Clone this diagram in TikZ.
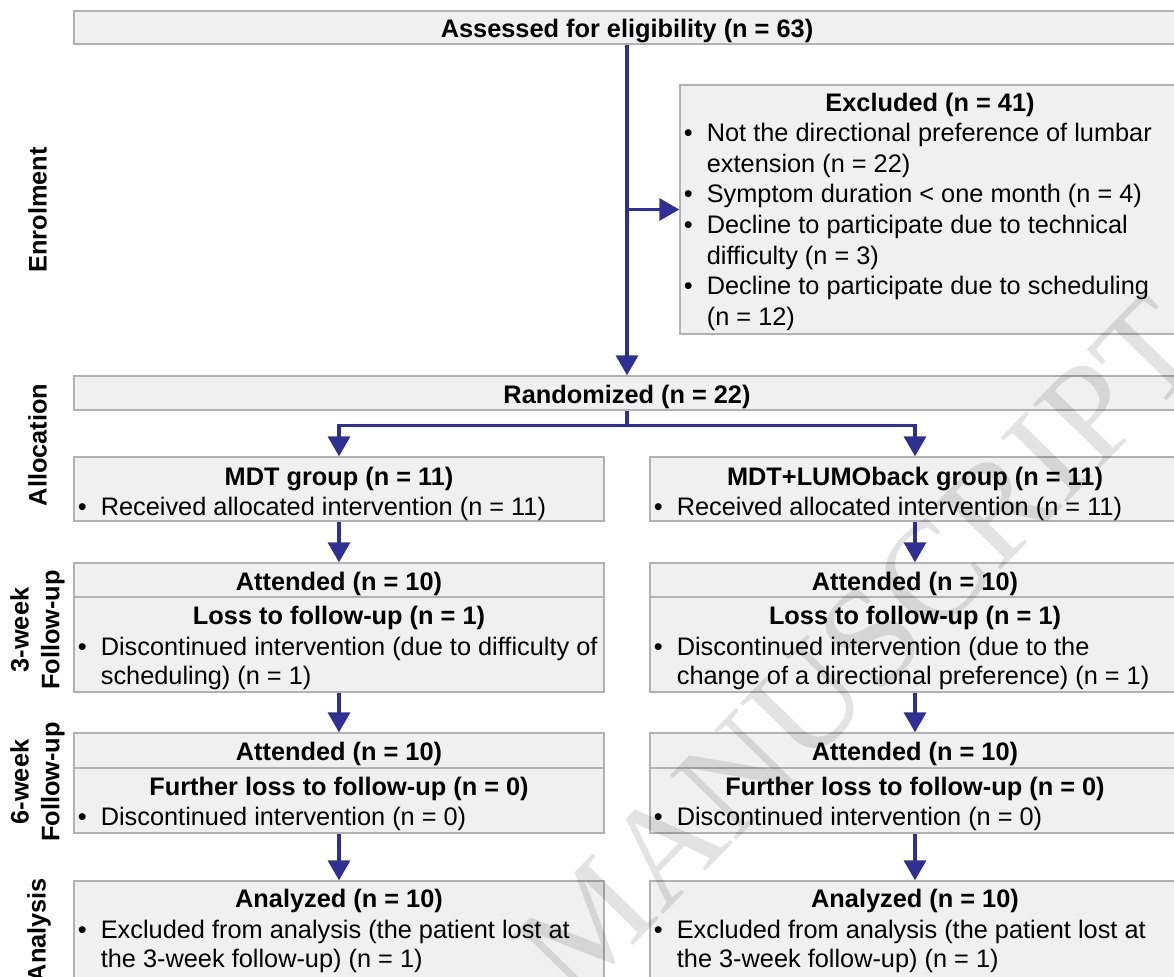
\documentclass[tikz,border=0pt]{standalone}
\usepackage{fontspec}
\setmainfont{Liberation Sans}
\newfontfamily\wmfont{Liberation Serif}
\usetikzlibrary{arrows.meta,fit}

\definecolor{flowblue}{RGB}{46,49,146}
\definecolor{boxfill}{RGB}{240,240,240}
\definecolor{boxline}{RGB}{178,178,178}

\tikzset{
  box/.style={draw=boxline, fill=boxfill, line width=1pt, inner sep=0pt, rectangle},
  txt/.style={font=\fontsize{19}{23}\selectfont, inner sep=0pt, anchor=base},
  ttl/.style={txt, font=\fontsize{19}{23}\selectfont\bfseries},
  bul/.style={txt, anchor=base west},
  phase/.style={font=\fontsize{19}{23}\selectfont\bfseries, rotate=90, align=center, inner sep=0pt},
  flow/.style={draw=flowblue, line width=2.6pt},
  arr/.style={flow, -{Triangle[length=15pt,width=16.5pt]}},
}
\newcommand{\bl}[1]{\makebox[17.3pt][l]{\textbullet}#1}

\begin{document}
\begin{tikzpicture}[x=0.75pt,y=0.75pt,yscale=-1,xscale=1]
	\useasboundingbox (0,0) rectangle (1174,976);
	\clip (0,0) rectangle (1174,976);

	%Shape: Rectangle
	\node [box, fit={(74,11) (1180,44)}] (assess) {};
	%Shape: Rectangle
	\node [box, fit={(680,85) (1180,334)}] (excl) {};
	%Shape: Rectangle
	\node [box, fit={(74,376) (1180,410)}] (rand) {};
	%Shape: Rectangle
	\node [box, fit={(74,457) (604,521)}] (mdtA) {};
	\node [box, fit={(650,457) (1180,521)}] (lumA) {};
	%Shape: Rectangle
	\node [box, fit={(74,563) (604,597)}] (mdtW3a) {};
	\node [box, fit={(74,597) (604,692)}] (mdtW3b) {};
	\node [box, fit={(650,563) (1180,597)}] (lumW3a) {};
	\node [box, fit={(650,597) (1180,692)}] (lumW3b) {};
	%Shape: Rectangle
	\node [box, fit={(74,733) (604,768)}] (mdtW6a) {};
	\node [box, fit={(74,768) (604,833)}] (mdtW6b) {};
	\node [box, fit={(650,733) (1180,768)}] (lumW6a) {};
	\node [box, fit={(650,768) (1180,833)}] (lumW6b) {};
	%Shape: Rectangle
	\node [box, fit={(74,881) (604,992)}] (mdtAn) {};
	\node [box, fit={(650,881) (1180,992)}] (lumAn) {};

	%Straight Lines
	\draw [arr] (assess.south) -- (rand.north);
	\draw [arr] (assess.south |- excl.west) -- (excl.west);
	\draw [flow] (rand.south) -- ++(0,15) coordinate (split);
	\draw [arr] (split) -| (mdtA.north);
	\draw [arr] (split) -| (lumA.north);
	\draw [arr] (mdtA.south) -- (mdtW3a.north);
	\draw [arr] (lumA.south) -- (lumW3a.north);
	\draw [arr] (mdtW3b.south) -- (mdtW6a.north);
	\draw [arr] (lumW3b.south) -- (lumW6a.north);
	\draw [arr] (mdtW6b.south) -- (mdtAn.north);
	\draw [arr] (lumW6b.south) -- (lumAn.north);

	% Text Node
	\node [ttl] (assessT) at (627,37) {Assessed for eligibility (n = 63)};
	% Text Node
	\node [ttl] (exclT) at (930,111) {Excluded (n = 41)};
	\node [bul] (excl1) at (683.5,141.5) {\bl{Not the directional preference of lumbar}};
	\node [bul] (excl2) at (706.6,172.2) {extension (n = 22)};
	\node [bul] (excl3) at (683.5,202.8) {\bl{Symptom duration < one month (n = 4)}};
	\node [bul] (excl4) at (683.5,233.5) {\bl{Decline to participate due to technical}};
	\node [bul] (excl5) at (706.6,264.1) {difficulty (n = 3)};
	\node [bul] (excl6) at (683.5,294.8) {\bl{Decline to participate due to scheduling}};
	\node [bul] (excl7) at (706.6,325.4) {(n = 12)};
	% Text Node
	\node [ttl] (randT) at (627,403) {Randomized (n = 22)};
	% Text Node
	\node [ttl] (mdtAT) at (339,485) {MDT group (n = 11)};
	\node [bul] (mdtA1) at (77.5,515) {\bl{Received allocated intervention (n = 11)}};
	\node [ttl] (lumAT) at (915,485) {MDT+LUMOback group (n = 11)};
	\node [bul] (lumA1) at (653.5,515) {\bl{Received allocated intervention (n = 11)}};
	% Text Node
	\node [ttl] (mdtW3T) at (339,590.5) {Attended (n = 10)};
	\node [ttl] (mdtW3L) at (339,624.5) {Loss to follow-up (n = 1)};
	\node [bul] (mdtW31) at (77.5,655) {\bl{Discontinued intervention (due to difficulty of}};
	\node [bul] (mdtW32) at (100.6,684) {scheduling) (n = 1)};
	\node [ttl] (lumW3T) at (915,590.5) {Attended (n = 10)};
	\node [ttl] (lumW3L) at (915,624.5) {Loss to follow-up (n = 1)};
	\node [bul] (lumW31) at (653.5,655) {\bl{Discontinued intervention (due to the}};
	\node [bul] (lumW32) at (676.6,684) {change of a directional preference) (n = 1)};
	% Text Node
	\node [ttl] (mdtW6T) at (339,760.5) {Attended (n = 10)};
	\node [ttl] (mdtW6L) at (339,795.5) {Further loss to follow-up (n = 0)};
	\node [bul] (mdtW61) at (77.5,825.5) {\bl{Discontinued intervention (n = 0)}};
	\node [ttl] (lumW6T) at (915,760.5) {Attended (n = 10)};
	\node [ttl] (lumW6L) at (915,795.5) {Further loss to follow-up (n = 0)};
	\node [bul] (lumW61) at (653.5,825.5) {\bl{Discontinued intervention (n = 0)}};
	% Text Node
	\node [ttl] (mdtAnT) at (339,907) {Analyzed (n = 10)};
	\node [bul] (mdtAn1) at (77.5,938) {\bl{Excluded from analysis (the patient lost at}};
	\node [bul] (mdtAn2) at (100.6,967) {the 3-week follow-up) (n = 1)};
	\node [ttl] (lumAnT) at (915,907) {Analyzed (n = 10)};
	\node [bul] (lumAn1) at (653.5,938) {\bl{Excluded from analysis (the patient lost at}};
	\node [bul] (lumAn2) at (676.6,967) {the 3-week follow-up) (n = 1)};

	% Text Node
	\node [phase] (enrol) at (37.5,210) {Enrolment};
	\node [phase] (alloc) at (37.5,445) {Allocation};
	\node [phase] (week3) at (37.5,630) {3-week\\Follow-up};
	\node [phase] (week6) at (37.5,782) {6-week\\Follow-up};
	\node [phase] (analysis) at (39,930) {Analysis};

	% Text Node
	\node [font=\wmfont\fontsize{106}{106}\selectfont, opacity=0.11, rotate=45.6, inner sep=0pt] (wmark) at (860,648) {MANUSCRIPT};
\end{tikzpicture}
\end{document}
